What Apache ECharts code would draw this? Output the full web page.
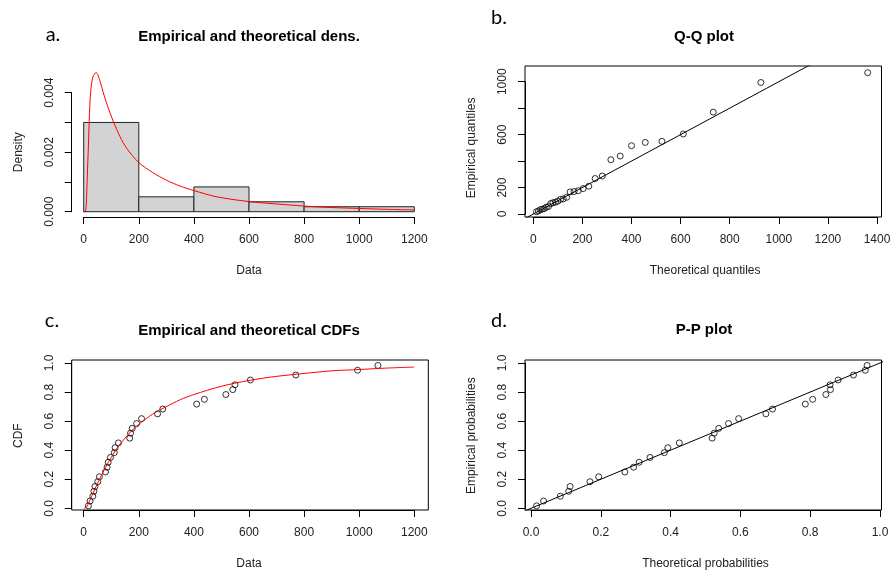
<!DOCTYPE html>
<html>
<head>
<meta charset="utf-8">
<script src="https://cdn.jsdelivr.net/npm/echarts@6/dist/echarts.min.js"></script>
<style>
  html, body { margin: 0; padding: 0; background: #fff; }
  #chart { width: 892px; height: 575px; }
</style>
</head>
<body>
<div id="chart"></div>
<script>
// histogram (panel a)
const histBreaks = [0, 200, 400, 600, 800, 1000, 1200];
const histDensity = [0.003, 0.0005, 0.000833, 0.000333, 0.000167, 0.000167];

// theoretical density curve
const densX = [0, 5, 9, 13, 17, 21, 25, 33, 45, 59, 71, 84, 108, 132, 156, 200, 250, 300, 350, 400, 483, 600, 700, 800, 900, 1000, 1100, 1200];
const densY = [0, 0, 0.0002, 0.0012, 0.0022, 0.0033, 0.0040, 0.00452, 0.00468, 0.0044, 0.0040, 0.00362, 0.00302, 0.00252, 0.00213, 0.00165, 0.00132, 0.00106, 0.00086, 0.00071, 0.0005, 0.00034, 0.00026, 0.00019, 0.00014, 0.00011, 0.00008, 0.00006];

// sorted observations and their plotting positions
const dataSorted = [17, 23, 33, 37, 41, 51, 57, 79, 85, 89, 97, 111, 114, 126, 167, 170, 176, 192, 210, 268, 287, 410, 438, 516, 541, 549, 605, 770, 994, 1068];
const empProb = [0.017, 0.05, 0.083, 0.117, 0.15, 0.183, 0.217, 0.25, 0.283, 0.317, 0.35, 0.383, 0.417, 0.45, 0.483, 0.517, 0.55, 0.583, 0.617, 0.65, 0.683, 0.717, 0.75, 0.783, 0.817, 0.85, 0.883, 0.917, 0.95, 0.983];

// Q-Q: theoretical quantiles
const qqTheo = [13, 21, 29, 37, 45, 53, 62, 71, 80, 90, 100, 111, 122, 136, 150, 166, 183, 203, 226, 252, 281, 316, 354, 400, 456, 524, 611, 733, 927, 1362];

// P-P: theoretical probabilities
const ppTheo = [0.016, 0.036, 0.084, 0.108, 0.112, 0.169, 0.194, 0.269, 0.294, 0.310, 0.341, 0.382, 0.392, 0.425, 0.519, 0.525, 0.538, 0.566, 0.595, 0.673, 0.692, 0.786, 0.807, 0.845, 0.858, 0.857, 0.880, 0.924, 0.958, 0.963];

// theoretical CDF curve
const cdfX = [0, 10, 20, 30, 40, 50, 60, 80, 100, 125, 150, 175, 200, 250, 300, 350, 400, 500, 600, 700, 800, 900, 1000, 1100, 1200];
const cdfY = [0, 0.008, 0.045, 0.087, 0.13, 0.17, 0.21, 0.283, 0.35, 0.425, 0.483, 0.535, 0.578, 0.648, 0.70, 0.747, 0.783, 0.84, 0.88, 0.908, 0.928, 0.946, 0.955, 0.965, 0.972];

// reference line y = x
const refLineQQ = [[-100, -100], [1500, 1500]];
const refLinePP = [[-0.1, -0.1], [1.1, 1.1]];

// tick labels
const dataTickLabels = ['0', '200', '400', '600', '800', '1000', '1200'];
const densTickLabels = ['0.000', '', '0.002', '', '0.004'];
const qqXTickLabels = ['0', '200', '400', '600', '800', '1000', '1200', '1400'];
const qqYTickLabels = ['0', '200', '', '600', '', '1000'];
const probTickLabels = ['0.0', '0.2', '0.4', '0.6', '0.8', '1.0'];

const FONT = '"Liberation Sans", Arial, sans-serif';
const grids = [], xAxes = [], yAxes = [], series = [];

function hiddenAxis(min, max, gi) {
  return { type: 'value', gridIndex: gi, min: min, max: max, show: false, splitLine: { show: false } };
}

function visAxis(t, gi, isY) {
  return {
    type: 'value', gridIndex: gi, min: t.min, max: t.max, interval: t.interval,
    position: isY ? 'left' : 'bottom',
    axisLine: { show: true, onZero: false, lineStyle: { color: '#000', width: 1 } },
    axisTick: { show: true, length: 7, lineStyle: { color: '#000', width: 1 } },
    splitLine: { show: false },
    axisLabel: {
      margin: isY ? 16 : 17, rotate: isY ? 90 : 0, fontSize: 12, color: '#222', fontFamily: FONT,
      formatter: (v, i) => t.labels[i]
    },
    name: t.name, nameLocation: 'middle', nameGap: t.gap,
    nameTextStyle: { fontSize: 12, color: '#222', fontFamily: FONT }
  };
}

// box: pixel region, xr/yr: data range of region, xt/yt: tick spec
function panel(box, xr, yr, xt, yt, framed) {
  const px = v => box.L + (v - xr[0]) / (xr[1] - xr[0]) * (box.R - box.L);
  const py = v => box.B - (v - yr[0]) / (yr[1] - yr[0]) * (box.B - box.T);
  const base = grids.length;
  grids.push({ left: box.L, top: box.T, width: box.R - box.L, height: box.B - box.T,
    show: framed, borderColor: '#000', borderWidth: 1, backgroundColor: 'transparent',
    containLabel: false, outerBoundsMode: 'none' });
  xAxes.push(hiddenAxis(xr[0], xr[1], base));
  yAxes.push(hiddenAxis(yr[0], yr[1], base));
  grids.push({ left: px(xt.min), width: px(xt.max) - px(xt.min), top: box.T, height: box.B - box.T,
    containLabel: false, outerBoundsMode: 'none' });
  xAxes.push(visAxis(xt, base + 1, false));
  yAxes.push(hiddenAxis(yr[0], yr[1], base + 1));
  grids.push({ left: box.L, width: box.R - box.L, top: py(yt.max), height: py(yt.min) - py(yt.max),
    containLabel: false, outerBoundsMode: 'none' });
  xAxes.push(hiddenAxis(xr[0], xr[1], base + 2));
  yAxes.push(visAxis(yt, base + 2, true));
  return base;
}

const left = { L: 71.7, R: 428.3 }, right = { L: 525, R: 881.5 };
const topRow = { T: 66, B: 217 }, botRow = { T: 360, B: 510 };

const gA = panel({ ...left, ...topRow }, [-43.6, 1250.8], [-0.000178, 0.004897],
  { min: 0, max: 1200, interval: 200, labels: dataTickLabels, name: 'Data', gap: 48 },
  { min: 0, max: 0.004, interval: 0.001, labels: densTickLabels, name: 'Density', gap: 47 }, false);
const gB = panel({ ...right, ...topRow }, [-33.8, 1418.3], [-22.7, 1118.7],
  { min: 0, max: 1400, interval: 200, labels: qqXTickLabels, name: 'Theoretical quantiles', gap: 48 },
  { min: 0, max: 1000, interval: 200, labels: qqYTickLabels, name: 'Empirical quantiles', gap: 47 }, true);
const gC = panel({ ...left, ...botRow }, [-43.6, 1250.8], [-0.0117, 1.0206],
  { min: 0, max: 1200, interval: 200, labels: dataTickLabels, name: 'Data', gap: 48 },
  { min: 0, max: 1, interval: 0.2, labels: probTickLabels, name: 'CDF', gap: 47 }, true);
const gD = panel({ ...right, ...botRow }, [-0.0172, 1.0043], [-0.0117, 1.0206],
  { min: 0, max: 1, interval: 0.2, labels: probTickLabels, name: 'Theoretical probabilities', gap: 48 },
  { min: 0, max: 1, interval: 0.2, labels: probTickLabels, name: 'Empirical probabilities', gap: 47 }, true);

const zip = (a, b) => a.map((v, i) => [v, b[i]]);
const pointStyle = { color: 'rgba(0,0,0,0)', borderColor: '#000', borderWidth: 1 };

// panel a
series.push({
  type: 'custom', xAxisIndex: gA, yAxisIndex: gA,
  data: histDensity.map((d, i) => [histBreaks[i], histBreaks[i + 1], d]),
  renderItem: (params, api) => {
    const p0 = api.coord([api.value(0), api.value(2)]);
    const p1 = api.coord([api.value(1), 0]);
    return { type: 'rect', shape: { x: p0[0], y: p0[1], width: p1[0] - p0[0], height: p1[1] - p0[1] },
      style: { fill: '#d3d3d3', stroke: '#222', lineWidth: 1 } };
  }
});
series.push({ type: 'line', xAxisIndex: gA, yAxisIndex: gA, data: zip(densX, densY), smooth: 0.3,
  showSymbol: false, lineStyle: { color: '#ff0000', width: 1 } });

// panel b
series.push({ type: 'scatter', xAxisIndex: gB, yAxisIndex: gB, data: zip(qqTheo, dataSorted),
  symbol: 'circle', symbolSize: 6, itemStyle: pointStyle });
series.push({ type: 'line', xAxisIndex: gB, yAxisIndex: gB, data: refLineQQ, showSymbol: false, clip: true,
  lineStyle: { color: '#000', width: 1 } });

// panel c
series.push({ type: 'scatter', xAxisIndex: gC, yAxisIndex: gC, data: zip(dataSorted, empProb),
  symbol: 'circle', symbolSize: 6, itemStyle: pointStyle });
series.push({ type: 'line', xAxisIndex: gC, yAxisIndex: gC, data: zip(cdfX, cdfY), smooth: 0.3,
  showSymbol: false, lineStyle: { color: '#ff0000', width: 1 } });

// panel d
series.push({ type: 'scatter', xAxisIndex: gD, yAxisIndex: gD, data: zip(ppTheo, empProb),
  symbol: 'circle', symbolSize: 6, itemStyle: pointStyle });
series.push({ type: 'line', xAxisIndex: gD, yAxisIndex: gD, data: refLinePP, showSymbol: false, clip: true,
  lineStyle: { color: '#000', width: 1 } });

function txt(text, x, y, font) {
  return { type: 'text', x: x, y: y, silent: true,
    style: { text: text, font: font, fill: '#000', textAlign: 'center', align: 'center',
      textVerticalAlign: 'middle', verticalAlign: 'middle' } };
}
const titleFont = 'bold 15px ' + FONT;
const letterFont = '20px Lato, "Liberation Sans", sans-serif';

const chart = echarts.init(document.getElementById('chart'), null, { renderer: 'canvas' });
chart.setOption({
  animation: false,
  backgroundColor: '#fff',
  grid: grids,
  xAxis: xAxes,
  yAxis: yAxes,
  series: series,
  graphic: [
    txt('a.', 53, 35, letterFont),
    txt('b.', 499, 18, letterFont),
    txt('c.', 52, 321, letterFont),
    txt('d.', 499, 321, letterFont),
    txt('Empirical and theoretical dens.', 249, 36.5, titleFont),
    txt('Q-Q plot', 704, 36.5, titleFont),
    txt('Empirical and theoretical CDFs', 249, 330.5, titleFont),
    txt('P-P plot', 704, 330, titleFont)
  ]
});
</script>
</body>
</html>
